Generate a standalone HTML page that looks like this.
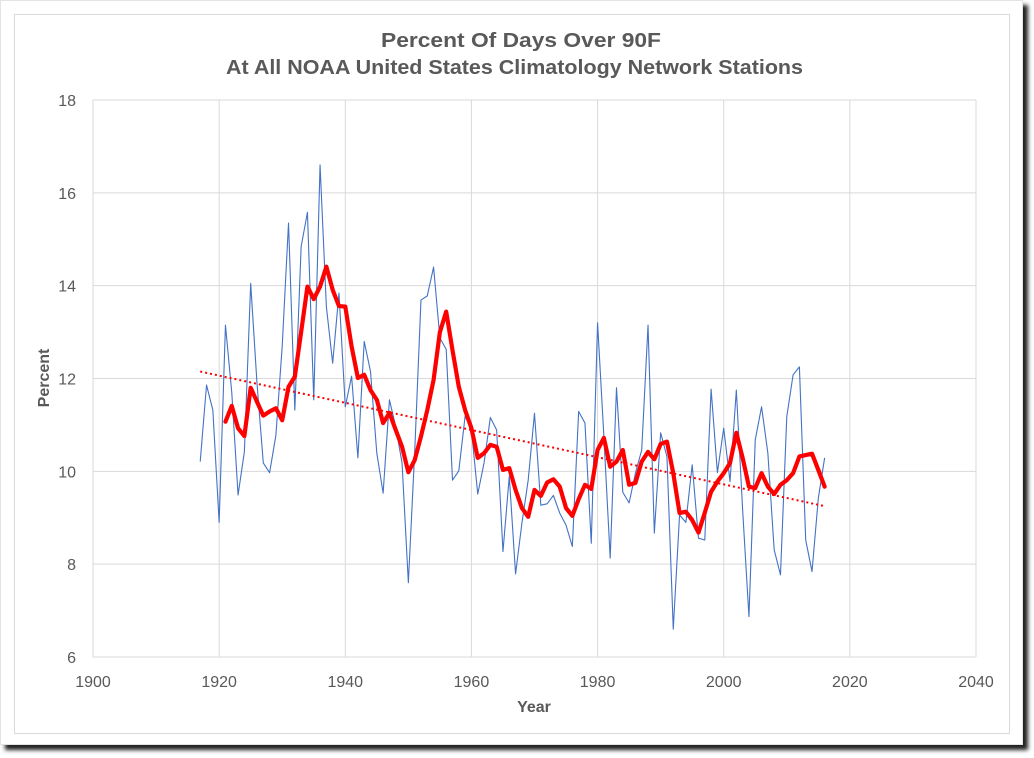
<!DOCTYPE html>
<html><head><meta charset="utf-8"><style>
html,body{margin:0;padding:0;background:#fff;width:1034px;height:758px;overflow:hidden}
#frame{position:absolute;left:0;top:0;width:1021px;height:743px;background:#fff;border:1px solid #e4e4e4;box-shadow:5px 5px 4px #222}
svg{position:absolute;left:0;top:0}
text{font-family:"Liberation Sans",sans-serif}
</style></head><body>
<div id="frame"></div>
<svg id="chart" width="1034" height="758"></svg>
<script>
const years=[];for(let y=1917;y<=2016;y++)years.push(y);
const annualValues=[10.21,11.86,11.32,8.9,13.15,11.7,9.49,10.42,14.05,11.9,10.18,9.97,10.78,12.7,15.35,11.32,14.84,15.58,11.54,16.6,13.55,12.33,13.84,11.39,12.05,10.29,12.8,12.15,10.39,9.53,11.54,10.96,10.18,7.6,10.4,13.69,13.78,14.4,12.87,12.63,9.81,10.01,11.19,10.89,9.51,10.18,11.16,10.89,8.27,9.89,7.79,8.88,9.81,11.25,9.27,9.3,9.48,9.1,8.84,8.38,11.29,11.04,8.45,13.2,10.75,8.13,11.8,9.55,9.32,9.96,10.46,13.15,8.67,10.83,10.32,6.6,9.06,8.9,10.14,8.56,8.52,11.77,9.97,10.93,9.78,11.75,9.17,6.87,10.68,11.39,10.39,8.31,7.77,11.18,12.08,12.25,8.52,7.84,9.42,10.29];
const avgYears=[];for(let y=1921;y<=2016;y++)avgYears.push(y);
const avgValues=[11.07,11.41,10.93,10.76,11.8,11.5,11.2,11.29,11.36,11.1,11.82,12.04,13.0,13.98,13.71,13.98,14.41,13.91,13.56,13.55,12.69,12.01,12.08,11.75,11.54,11.04,11.26,10.89,10.53,9.98,10.24,10.75,11.32,11.97,13.0,13.44,12.61,11.82,11.32,10.93,10.29,10.39,10.57,10.53,10.03,10.07,9.6,9.21,9.02,9.6,9.47,9.76,9.83,9.67,9.21,9.04,9.4,9.71,9.62,10.46,10.72,10.1,10.21,10.46,9.71,9.75,10.21,10.42,10.26,10.59,10.64,9.96,9.1,9.13,8.95,8.68,9.11,9.56,9.78,9.96,10.18,10.83,10.29,9.67,9.64,9.96,9.67,9.51,9.71,9.81,9.96,10.32,10.35,10.38,10.03,9.67];
const trendYears=[1917,2016];
const trendValues=[12.15,9.25];
const xTicks=[1900,1920,1940,1960,1980,2000,2020,2040];
const yTicks=[6,8,10,12,14,16,18];
const L=93,R=976,T=100,B=657;
const xs=v=>L+(v-1900)/140*(R-L);
const ys=v=>B-(v-6)/12*(B-T);
const NS="http://www.w3.org/2000/svg";
const svg=document.getElementById('chart');
function mk(tag,attrs,parent){const e=document.createElementNS(NS,tag);for(const k in attrs)e.setAttribute(k,attrs[k]);(parent||svg).appendChild(e);return e;}
const inner=mk('rect',{x:14.5,y:14.5,width:995,height:719,fill:'none',stroke:'#d9d9d9'});


const t1=mk('text',{x:381,y:47,'font-size':'20','font-weight':'bold',fill:'#595959',textLength:280,lengthAdjust:'spacingAndGlyphs'});t1.textContent='Percent Of Days Over 90F';


const t2=mk('text',{x:226,y:74,'font-size':'20','font-weight':'bold',fill:'#595959',textLength:577,lengthAdjust:'spacingAndGlyphs'});t2.textContent='At All NOAA United States Climatology Network Stations';


yTicks.forEach(v=>{
 const g=mk('line',{x1:L,x2:R,y1:ys(v),y2:ys(v),stroke:'#d9d9d9','stroke-width':1});
 
 
 const t=mk('text',{x:76,y:ys(v)+6,'text-anchor':'end','font-size':'16',fill:'#595959'});t.textContent=v;
 
 
});
xTicks.forEach(v=>{
 const g=mk('line',{x1:xs(v),x2:xs(v),y1:T,y2:B,stroke:'#d9d9d9','stroke-width':1});
 
 
 const t=mk('text',{x:xs(v),y:687,'text-anchor':'middle','font-size':'16',fill:'#595959'});t.textContent=v;
 
 
});
const xt=mk('text',{x:534,y:712,'text-anchor':'middle','font-size':'16','font-weight':'bold',fill:'#595959'});xt.textContent='Year';


const yt=mk('text',{x:0,y:0,transform:'translate(49,378) rotate(-90)','text-anchor':'middle','font-size':'16','font-weight':'bold',fill:'#595959'});yt.textContent='Percent';


const bl=mk('polyline',{points:years.map((y,i)=>xs(y)+','+ys(annualValues[i])).join(' '),fill:'none',stroke:'#4472c4','stroke-width':1.1,'stroke-linejoin':'round'});


const tr=mk('line',{x1:xs(trendYears[0]),y1:ys(trendValues[0]),x2:xs(trendYears[1]),y2:ys(trendValues[1]),stroke:'#ff0000','stroke-width':2,'stroke-dasharray':'2 3'});


const rl=mk('polyline',{points:avgYears.map((y,i)=>xs(y)+','+ys(avgValues[i])).join(' '),fill:'none',stroke:'#ff0000','stroke-width':4.2,'stroke-linejoin':'round','stroke-linecap':'round'});


</script>
</body></html>
